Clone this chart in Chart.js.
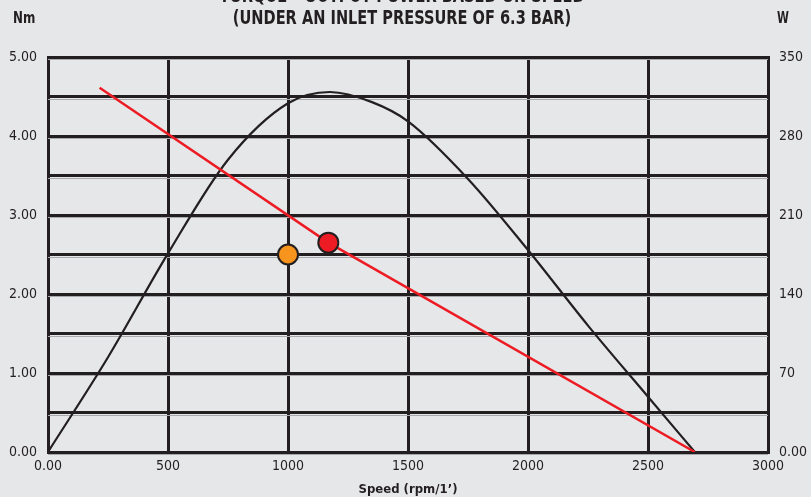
<!DOCTYPE html>
<html>
<head>
<meta charset="utf-8">
<script src="https://cdn.jsdelivr.net/npm/chart.js@4.4.1/dist/chart.umd.min.js"></script>
<style>
	html, body { margin: 0; padding: 0; background: #e6e7e8; overflow: hidden; }
	#chart { display: block; }
</style>
</head>
<body>
<canvas id="chart" width="811" height="497"></canvas>
<script>
// power curve (right axis, W)
var powerSpeed = [0, 250, 500, 750, 1000, 1175, 1350, 1500, 1750, 2000, 2250, 2500, 2695];
var powerWatts = [0, 84, 176, 259, 309, 319, 310, 293, 242, 179, 112, 49, 0];

// torque line (left axis, Nm)
var torqueSpeed = [215, 1168, 2695];
var torqueNm = [4.61, 2.65, 0];

// rated points
var pointSpeed = [1000, 1168];
var pointTorque = [2.5, 2.65];
var pointColors = ["#f7941d", "#ed1c24"];

var titleLines = ["TORQUE \u2013 OUTPUT POWER BASED ON SPEED", "(UNDER AN INLET PRESSURE OF 6.3 BAR)"];
var xTitle = "Speed (rpm/1\u2019)";

var FONT = "'Liberation Sans Narrow', 'DejaVu Sans Condensed', 'Roboto', sans-serif";
var DARK = "#231f20";

function toPoints(xs, ys) {
	return xs.map(function (x, i) { return { x: x, y: ys[i] }; });
}

// thin grey line under every horizontal grid line
var gridShadow = {
	id: "gridShadow",
	beforeDatasetsDraw: function (chart) {
		var ctx = chart.ctx;
		var area = chart.chartArea;
		var y = chart.scales.y;
		ctx.save();
		ctx.strokeStyle = "#a7a9ac";
		ctx.lineWidth = 1;
		y.ticks.forEach(function (t) {
			var py = Math.round(y.getPixelForValue(t.value)) + 2.5;
			ctx.beginPath();
			ctx.moveTo(area.left, py);
			ctx.lineTo(area.right, py);
			ctx.stroke();
		});
		ctx.restore();
	}
};

// narrow text, like the condensed face of the original
function narrowText(ctx, text, x, y, squeeze) {
	ctx.save();
	ctx.translate(x, y);
	ctx.scale(squeeze, 1);
	ctx.fillText(text, 0, 0);
	ctx.restore();
}

var headerText = {
	id: "headerText",
	afterDraw: function (chart) {
		var ctx = chart.ctx;
		var area = chart.chartArea;
		ctx.save();
		ctx.fillStyle = DARK;
		ctx.textBaseline = "middle";
		ctx.textAlign = "center";
		ctx.font = "bold 20px " + FONT;
		narrowText(ctx, titleLines[0], 402, -3, 0.81);
		narrowText(ctx, titleLines[1], 402, 19, 0.81);
		ctx.font = "bold 15px " + FONT;
		ctx.textAlign = "left";
		narrowText(ctx, "Nm", area.left - 35, 19, 0.88);
		narrowText(ctx, "W", area.right + 9, 19, 0.8);
		ctx.restore();
	}
};

var canvas = document.getElementById("chart");
var context = canvas.getContext("2d");

new Chart(context, {
	type: "line",
	data: {
		datasets: [
			{
				type: "scatter",
				data: toPoints(pointSpeed, pointTorque),
				yAxisID: "y",
				backgroundColor: pointColors,
				borderColor: DARK,
				borderWidth: 2,
				pointRadius: 10,
				showLine: false,
				order: 0
			},
			{
				data: toPoints(torqueSpeed, torqueNm),
				yAxisID: "y",
				borderColor: "#ed1c24",
				borderWidth: 2.5,
				pointRadius: 0,
				tension: 0,
				order: 1
			},
			{
				data: toPoints(powerSpeed, powerWatts),
				yAxisID: "y1",
				borderColor: DARK,
				borderWidth: 2.2,
				pointRadius: 0,
				cubicInterpolationMode: "monotone",
				order: 2
			}
		]
	},
	options: {
		responsive: false,
		animation: false,
		layout: { padding: { top: 57, left: 0, right: 0, bottom: 0 } },
		plugins: {
			legend: { display: false },
			tooltip: { enabled: false }
		},
		scales: {
			x: {
				type: "linear",
				min: 0,
				max: 3000,
				ticks: {
					stepSize: 500,
					padding: 6,
					color: DARK,
					font: { family: FONT, size: 14 },
					maxRotation: 0,
					callback: function (v) { return v === 0 ? "0.00" : v; }
				},
				grid: { color: DARK, lineWidth: 3, drawTicks: false },
				border: { color: DARK, width: 3 },
				title: {
					display: true,
					text: xTitle,
					color: DARK,
					font: { family: FONT, size: 13, weight: "bold" },
					padding: { top: 6, bottom: 0 }
				},
				afterFit: function (scale) { scale.height = 45; }
			},
			y: {
				position: "left",
				min: 0,
				max: 5,
				ticks: {
					stepSize: 0.5,
					padding: 11,
					color: DARK,
					font: { family: FONT, size: 14 },
					callback: function (v) { return v % 1 === 0 ? v.toFixed(2) : ""; }
				},
				grid: { color: DARK, lineWidth: 3, drawTicks: false },
				border: { color: DARK, width: 3 },
				afterFit: function (scale) { scale.width = 48; }
			},
			y1: {
				position: "right",
				min: 0,
				max: 350,
				ticks: {
					stepSize: 35,
					padding: 11,
					color: DARK,
					font: { family: FONT, size: 14 },
					callback: function (v) { return v % 70 === 0 ? (v === 0 ? "0.00" : v) : ""; }
				},
				grid: { display: false, drawTicks: false },
				border: { color: DARK, width: 3 },
				afterFit: function (scale) { scale.width = 43; }
			}
		}
	},
	plugins: [gridShadow, headerText]
});
</script>
</body>
</html>
